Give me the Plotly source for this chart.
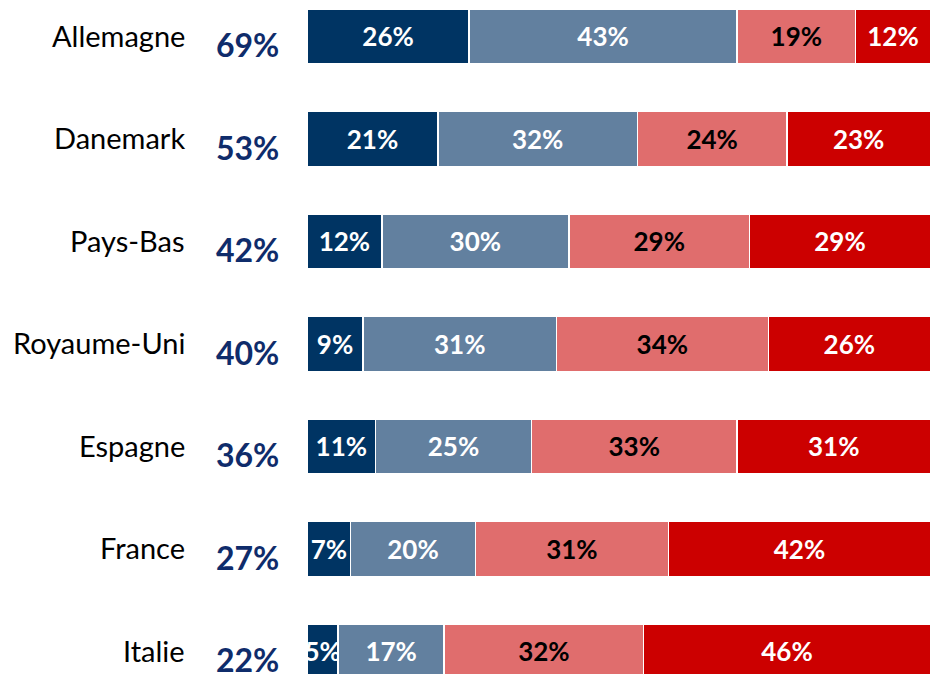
import plotly.graph_objects as go

countries = ["Allemagne", "Danemark", "Pays-Bas", "Royaume-Uni", "Espagne", "France", "Italie"]
totals = [69, 53, 42, 40, 36, 27, 22]
s1 = [26, 21, 12, 9, 11, 7, 5]
s2 = [43, 32, 30, 31, 25, 20, 17]
s3 = [19, 24, 29, 34, 33, 31, 32]
s4 = [12, 23, 29, 26, 31, 42, 46]

series = [s1, s2, s3, s4]
colors = ["#003463", "#62809F", "#E06D6D", "#CC0000"]
text_colors = ["white", "white", "black", "white"]

W, H = 931, 674
FONT = "Lato"

fig = go.Figure()
for vals, col, tcol in zip(series, colors, text_colors):
    fig.add_trace(go.Bar(
        y=countries, x=vals, orientation="h",
        marker=dict(color=col, line=dict(color="white", width=1.5)),
        width=0.537,
        text=[f"{v}%" for v in vals],
        textposition="inside", insidetextanchor="middle", textangle=0,
        textfont=dict(family=FONT, size=26, color=tcol, weight="bold"),
        hoverinfo="skip", showlegend=False,
    ))

annotations = []
for i, (c, t) in enumerate(zip(countries, totals)):
    annotations.append(dict(
        x=187 / W, xref="paper", xanchor="right",
        y=i - 0.01, yref="y", yanchor="middle",
        text=c, showarrow=False,
        font=dict(family=FONT, size=29, color="black"),
    ))
    annotations.append(dict(
        x=248 / W, xref="paper", xanchor="center",
        y=i + 0.083, yref="y", yanchor="middle",
        text=f"<b>{t}%</b>", showarrow=False,
        font=dict(family=FONT, size=32, color="#0F2C6B"),
    ))

fig.update_layout(
    width=W, height=H,
    barmode="stack",
    margin=dict(l=0, r=0, t=0, b=0),
    paper_bgcolor="white", plot_bgcolor="white",
    uniformtext=dict(minsize=26, mode="show"),
    xaxis=dict(domain=[307 / W, 1.0], range=[0, 100.1], visible=False, fixedrange=True),
    yaxis=dict(type="category", categoryorder="array", categoryarray=countries,
               range=[6.22, -0.356], visible=False, fixedrange=True),
    annotations=annotations,
    bargap=0.4,
)

fig.write_html(
    "out.html",
    config={"displayModeBar": False},
    post_script="document.body.style.margin='0px';document.body.style.overflow='hidden';",
)
